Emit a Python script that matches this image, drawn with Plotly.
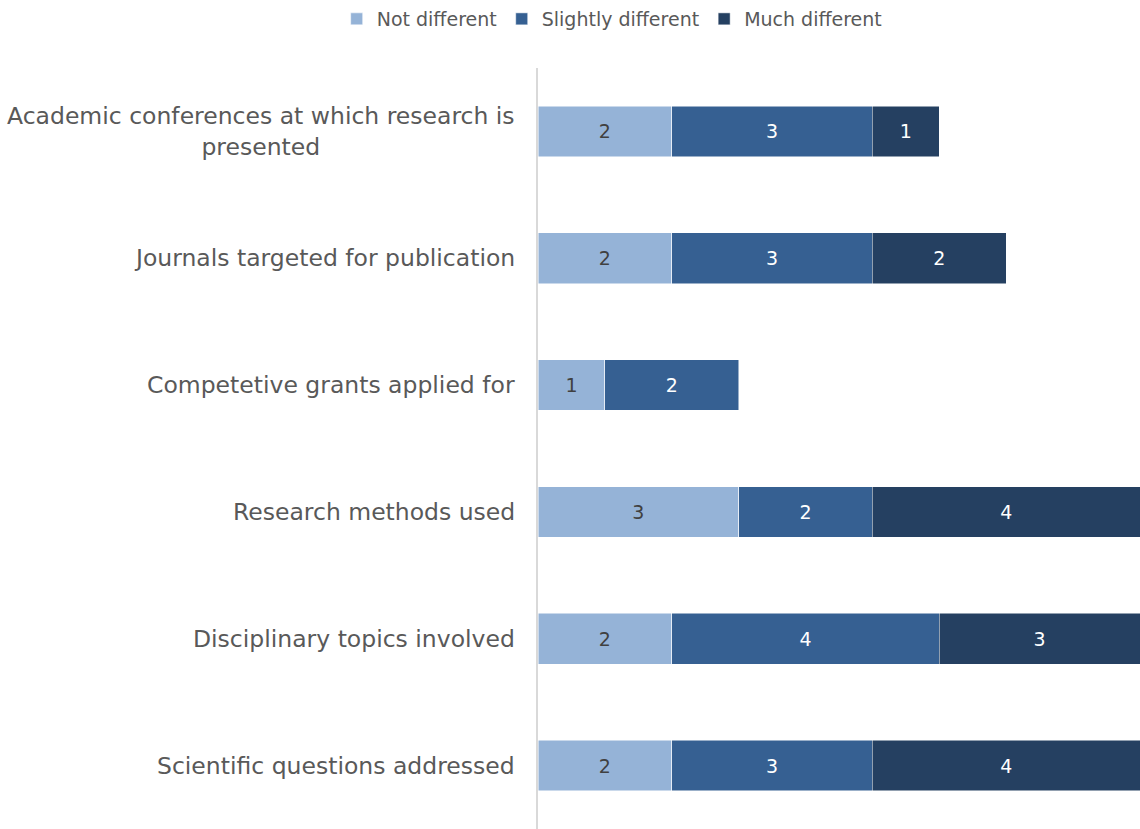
import plotly.graph_objects as go

categories = ['Academic conferences at which research is<br>presented',
              'Journals targeted for publication',
              'Competetive grants applied for',
              'Research methods used',
              'Disciplinary topics involved',
              'Scientific questions addressed']
not_different = [2, 2, 1, 3, 2, 2]
slightly_different = [3, 3, 2, 2, 4, 3]
much_different = [1, 2, None, 4, 3, 4]

series = [('Not different', not_different, '#95B3D7', '#404040'),
          ('Slightly different', slightly_different, '#366092', '#FFFFFF'),
          ('Much different', much_different, '#254061', '#FFFFFF')]

fig = go.Figure()
for name, vals, color, tcolor in series:
    fig.add_trace(go.Bar(y=categories, x=vals, name=name, orientation='h',
                         marker=dict(color=color, line=dict(color='#FFFFFF', width=0.5)),
                         text=[v if v is not None else '' for v in vals],
                         textposition='inside', insidetextanchor='middle', textangle=0,
                         textfont=dict(color=tcolor, size=19, family='DejaVu Sans')))

# category labels as annotations so the two-line label is centred like the original
for c in categories:
    fig.add_annotation(x=0, xref='paper', y=c, yref='y', text=c, showarrow=False,
                       xanchor='right', xshift=-21, align='center',
                       font=dict(size=23.5, color='#595959', family='DejaVu Sans'))

fig.update_layout(barmode='stack', bargap=0.6,
                  width=1140, height=829,
                  plot_bgcolor='white', paper_bgcolor='white',
                  font=dict(family='DejaVu Sans', color='#595959'),
                  margin=dict(l=538, r=0, t=68, b=0, autoexpand=False),
                  legend=dict(orientation='h', xref='container', x=0.537, xanchor='center',
                              yref='container', y=1, yanchor='top',
                              font=dict(size=19), traceorder='normal'),
                  xaxis=dict(range=[0, 9], showgrid=False, showticklabels=False, zeroline=False,
                             automargin=False),
                  yaxis=dict(autorange='reversed', showline=True, linecolor='#D9D9D9', linewidth=1.5,
                             ticks='', showticklabels=False, automargin=False))

# drop the default body margin so the figure fills the window exactly
fig.write_html("out.html", config={'displayModeBar': False},
               post_script="document.body.style.margin='0';")
